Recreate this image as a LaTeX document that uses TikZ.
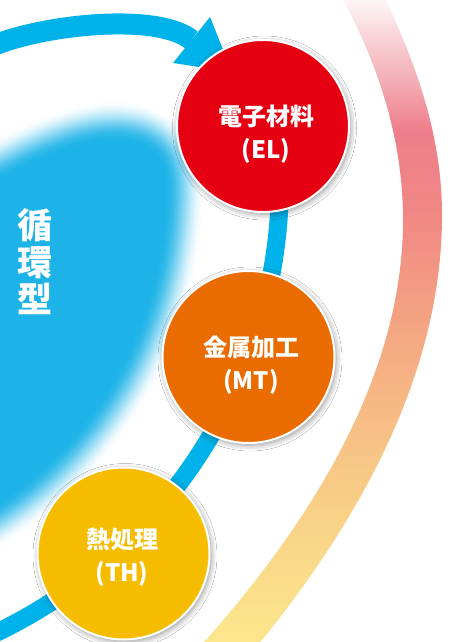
\documentclass[tikz,border=0pt]{standalone}
\usepackage{fontspec}
\newfontfamily\jp{Noto Sans CJK JP}
\usetikzlibrary{shadows.blur}
\definecolor{bandblue}{HTML}{00B2EA}
\definecolor{blobblue}{HTML}{1EB3E8}
\definecolor{elred}{HTML}{E50012}
\definecolor{mtorange}{HTML}{EA6B00}
\definecolor{thyellow}{HTML}{F6BD00}
\definecolor{g0}{HTML}{FCE68E}
\definecolor{g1}{HTML}{FBE08B}
\definecolor{g2}{HTML}{F9D287}
\definecolor{g3}{HTML}{F7C285}
\definecolor{g4}{HTML}{F5AE83}
\definecolor{g5}{HTML}{F39982}
\definecolor{g6}{HTML}{F08585}
\definecolor{g7}{HTML}{EE7F8A}
\definecolor{g8}{HTML}{F3AEB5}
\definecolor{g9}{HTML}{F9D9DD}
\definecolor{g10}{HTML}{FEF6F7}
\pgfdeclareverticalshading{rightband}{100bp}{color(0bp)=(g0); color(25bp)=(g0); color(28.27bp)=(g1); color(34.5bp)=(g2); color(40.73bp)=(g3); color(46.96bp)=(g4); color(53.19bp)=(g5); color(59.42bp)=(g6); color(64.88bp)=(g7); color(68.77bp)=(g8); color(72.66bp)=(g9); color(75bp)=(g10); color(100bp)=(g10)}
\tikzset{
  ball/.style={circle, minimum size=172pt, draw=white, line width=2pt, inner sep=0pt,
    blur shadow={shadow xshift=1.5pt, shadow yshift=-2pt, shadow blur radius=6pt, shadow opacity=45}},
  lbl/.style={text=white, align=center, font=\jp\bfseries\fontsize{24}{33.5}\selectfont, inner sep=0pt},
  vlbl/.style={text=white, align=center, font=\jp\bfseries\fontsize{35}{37}\selectfont, inner sep=0pt},
  band/.style={bandblue, line width=18pt},
}
\begin{document}
\begin{tikzpicture}[x=1pt, y=-1pt]
\useasboundingbox (0,0) rectangle (461,642);
\fill[white] (0,0) rectangle (461,642);
\clip (0,0) rectangle (461,642);
% right gradient band
\begin{scope}
\clip (381,-10) .. controls (415.8,62) and (442,135) .. (442,215)
  .. controls (442,365) and (368.3,511) .. (254,650)
  -- (197,650) .. controls (317.6,516.4) and (403,370) .. (403,220)
  .. controls (403,140) and (379,64.5) .. (338,-10) -- cycle;
\shade[shading=rightband] (0,0) rectangle (461,642);
\end{scope}
% fuzzy blue blob
\def\blobpath{(-60,205) .. controls (-10,195) and (40,150) .. (105,142) .. controls (150,138) and (164,160) .. (164,186) -- plot[domain=0:90, samples=60] ({-218+382*cos(\x)},{186+382*sin(\x)}) -- (-218,205) -- cycle}
\foreach \k in {1,...,20}{
  \pgfmathsetmacro\w{(21-\k)*4}
  \pgfmathsetmacro\p{100*((\k/20)^2*(3-2*\k/20))}
  \draw[line width=\w pt, line join=round, draw=blobblue!\p!white] \blobpath;
}
\fill[blobblue] \blobpath;
\node[vlbl] (title) at (35,262) {循\\環\\型};
% blue cycle band
\draw[band] plot[domain=-7:76, samples=90] ({-220+500*cos(\x)},{182+500*sin(\x)});
\coordinate (a0) at (-10,47);
\coordinate (abase) at (191.5,40);
\coordinate (tipA) at (210,17);
\coordinate (tipB) at (232,72);
\coordinate (tipC) at (173,63);
\draw[bandblue, line width=21pt] (a0) .. controls (40,25) and (156.5,11.8) .. (abase);
\fill[bandblue] (tipA) -- (tipB) -- (tipC) -- cycle;
% circles
\node[ball, fill=elred] (el) at (263,126) {};
\node[ball, fill=mtorange] (mt) at (248.5,357) {};
\node[ball, fill=thyellow] (th) at (123.5,553.5) {};
\node[lbl] (elt) at (266,134) {電子材料\\(EL)};
\node[lbl] (mtt) at (251,365) {金属加工\\(MT)};
\node[lbl] (tht) at (122,557) {熱処理\\(TH)};
\end{tikzpicture}
\end{document}
